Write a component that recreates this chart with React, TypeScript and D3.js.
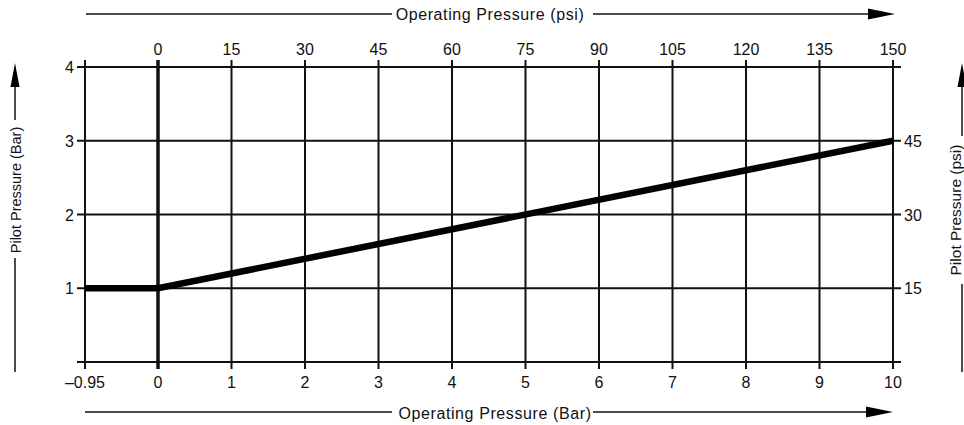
import * as d3 from 'd3';

// operating pressure (bar) vs pilot pressure (bar)
const barPoints = [
  { op: -0.95, pilot: 1 },
  { op: 0, pilot: 1 },
  { op: 10, pilot: 3 },
];

const barTicks = [-0.95, 0, 1, 2, 3, 4, 5, 6, 7, 8, 9, 10];
const barTickLabels = ['–0.95', '0', '1', '2', '3', '4', '5', '6', '7', '8', '9', '10'];
const psiTopTicks = [0, 15, 30, 45, 60, 75, 90, 105, 120, 135, 150];
const pilotBarTicks = [0, 1, 2, 3, 4];
const pilotBarLabels = ['', '1', '2', '3', '4'];
const pilotPsiTicks = [15, 30, 45];

const FONT = '"Liberation Sans", Arial, Helvetica, sans-serif';
const INK = '#111';

export default function App() {
  const W = 964;
  const H = 425;

  // -0.95 sits one full division left of 0 on the original scale
  const x = d3.scaleLinear().domain([-0.95, 0, 10]).range([85, 158, 893]);
  const xPsi = d3.scaleLinear().domain([0, 150]).range([x(0), x(10)]);
  const y = d3.scaleLinear().domain([0, 4]).range([362, 67]);
  const yPsi = d3.scaleLinear().domain([0, 60]).range([y(0), y(4)]);

  const left = x(-0.95);
  const right = x(10);
  const top = y(4);
  const bottom = y(0);

  const line = d3
    .line<{ op: number; pilot: number }>()
    .x((d) => x(d.op))
    .y((d) => y(d.pilot));

  const arrowH = (x1: number, yy: number) =>
    `M${x1 - 27},${yy - 5.5} L${x1},${yy} L${x1 - 27},${yy + 5.5} Z`;
  const arrowV = (xx: number, y1: number) =>
    `M${xx - 4.5},${y1 + 24} L${xx},${y1} L${xx + 4.5},${y1 + 24} Z`;

  return (
    <svg
      width={W}
      height={H}
      style={{ position: 'absolute', left: 0, top: 0, display: 'block', background: '#fff' }}
      fontFamily={FONT}
    >
      {/* horizontal grid (bar) with ticks left */}
      {pilotBarTicks.map((t) => (
        <line key={'h' + t} x1={left - 8} x2={right + 8} y1={y(t)} y2={y(t)} stroke={INK} strokeWidth={2} />
      ))}
      {/* vertical grid with ticks top and bottom */}
      {barTicks.map((t) => (
        <line
          key={'v' + t}
          x1={x(t)}
          x2={x(t)}
          y1={top - 7}
          y2={bottom + 7}
          stroke={INK}
          strokeWidth={t === 0 ? 3.5 : 2}
        />
      ))}

      {/* data line */}
      <path d={line(barPoints) || ''} fill="none" stroke="#000" strokeWidth={6.5} strokeLinejoin="miter" />

      {/* left tick labels */}
      {pilotBarTicks.map((t, i) => (
        <text key={'yl' + t} x={left - 11} y={y(t) + 6} textAnchor="end" fontSize={16} fill={INK}>
          {pilotBarLabels[i]}
        </text>
      ))}
      {/* right psi tick labels */}
      {pilotPsiTicks.map((t) => (
        <text key={'yr' + t} x={right + 11} y={yPsi(t) + 6} textAnchor="start" fontSize={16} fill={INK}>
          {t}
        </text>
      ))}
      {/* bottom bar tick labels */}
      {barTicks.map((t, i) => (
        <text key={'xb' + t} x={x(t)} y={bottom + 26} textAnchor="middle" fontSize={16} fill={INK}>
          {barTickLabels[i]}
        </text>
      ))}
      {/* top psi tick labels */}
      {psiTopTicks.map((t) => (
        <text key={'xt' + t} x={xPsi(t)} y={top - 12} textAnchor="middle" fontSize={16} fill={INK}>
          {t}
        </text>
      ))}

      {/* top title */}
      <line x1={86} x2={392} y1={14} y2={14} stroke={INK} strokeWidth={1.5} />
      <line x1={593} x2={870} y1={14} y2={14} stroke={INK} strokeWidth={1.5} />
      <path d={arrowH(895, 14)} fill="#000" />
      <text x={490} y={20} textAnchor="middle" fontSize={16} letterSpacing={0.6} fill={INK}>
        Operating Pressure (psi)
      </text>

      {/* bottom title */}
      <line x1={85} x2={392} y1={412} y2={412} stroke={INK} strokeWidth={1.5} />
      <line x1={593} x2={870} y1={412} y2={412} stroke={INK} strokeWidth={1.5} />
      <path d={arrowH(893, 412)} fill="#000" />
      <text x={495} y={419} textAnchor="middle" fontSize={16} letterSpacing={0.6} fill={INK}>
        Operating Pressure (Bar)
      </text>

      {/* left title */}
      <line x1={15} x2={15} y1={83} y2={120} stroke={INK} strokeWidth={1.5} />
      <line x1={15} x2={15} y1={258} y2={372} stroke={INK} strokeWidth={1.5} />
      <path d={arrowV(15, 63)} fill="#000" />
      <text transform="translate(21,190) rotate(-90)" textAnchor="middle" fontSize={14.5} fill={INK}>
        Pilot Pressure (Bar)
      </text>

      {/* right title (runs off the page edge) */}
      <line x1={962} x2={962} y1={85} y2={136} stroke={INK} strokeWidth={1.5} />
      <line x1={962} x2={962} y1={284} y2={372} stroke={INK} strokeWidth={1.5} />
      <path d={arrowV(962, 63)} fill="#000" />
      <text transform="translate(961,210) rotate(-90)" textAnchor="middle" fontSize={15.5} fill={INK}>
        Pilot Pressure (psi)
      </text>
    </svg>
  );
}
